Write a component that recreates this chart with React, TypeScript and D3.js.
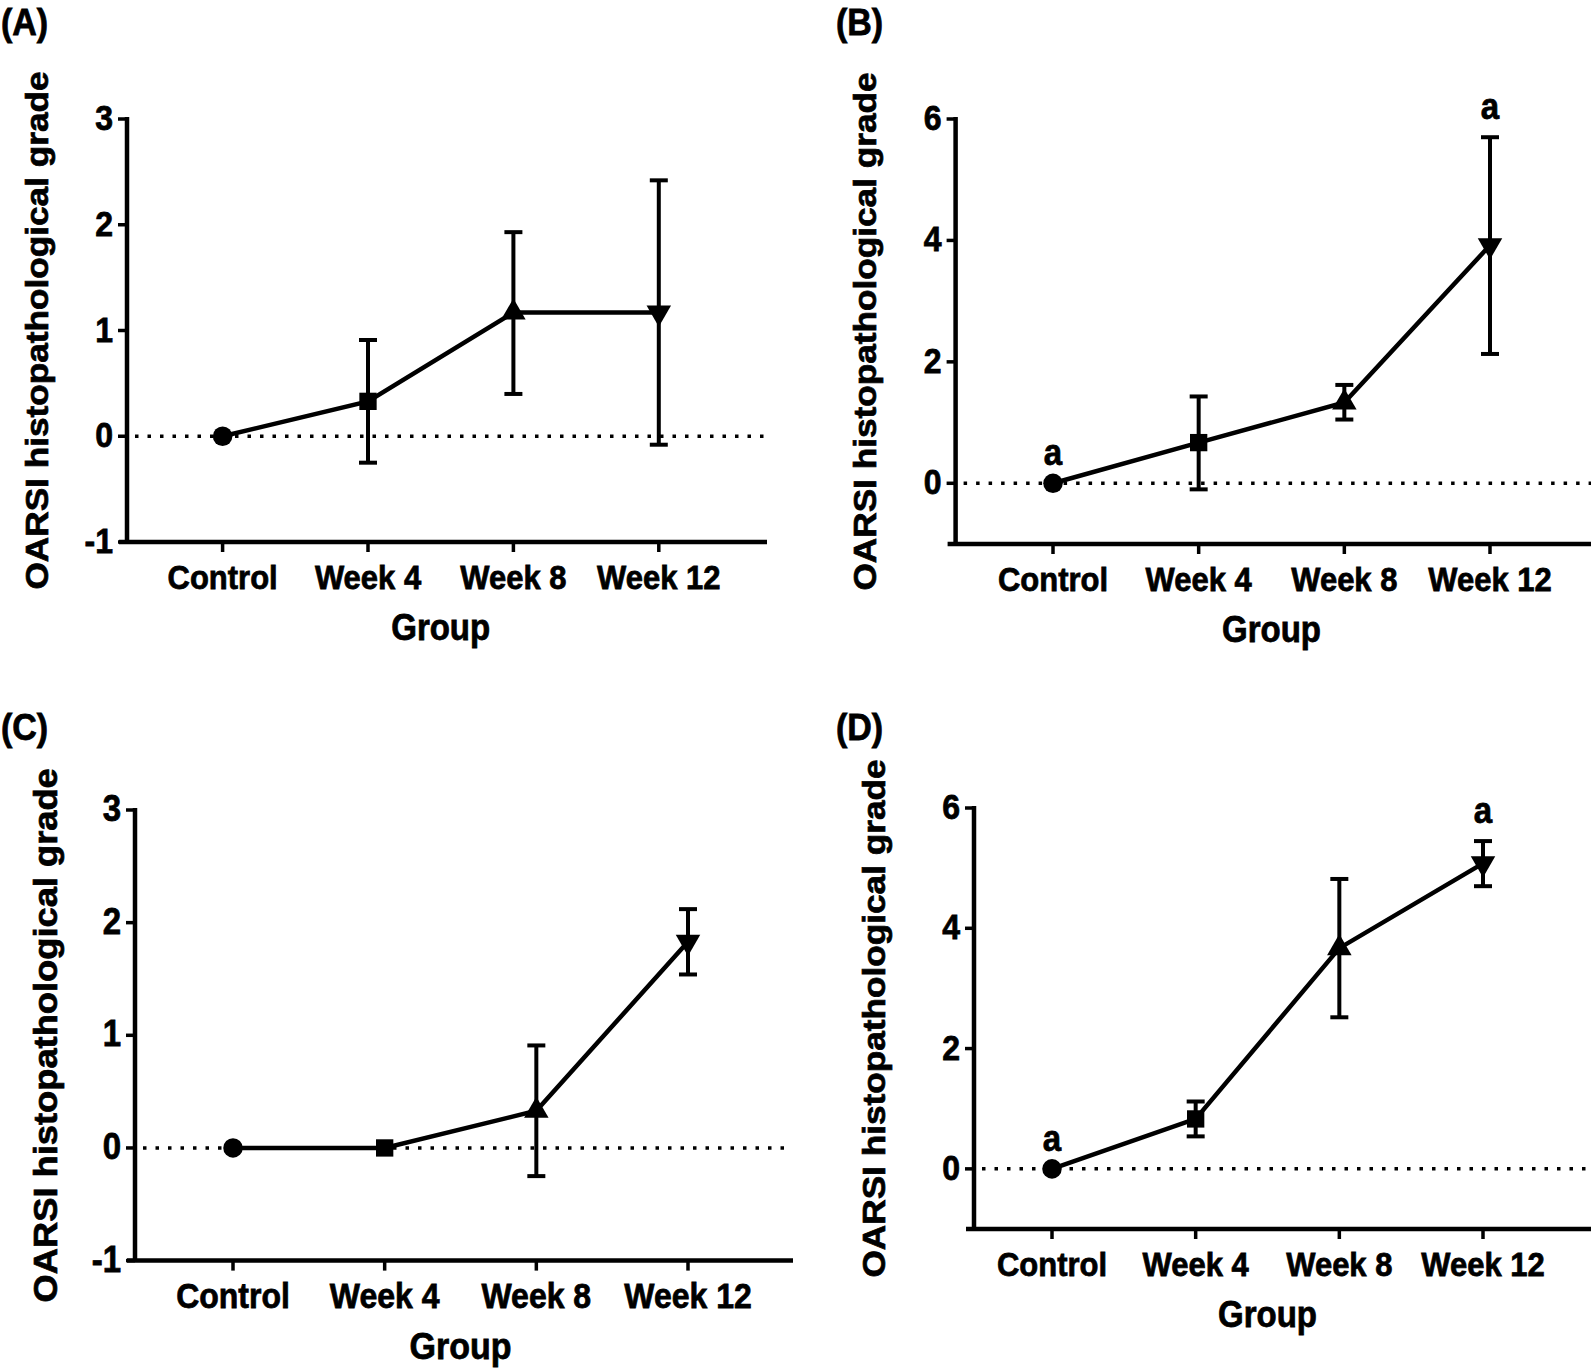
import React from "react";
import * as d3 from "d3";

const groups = ["Control", "Week 4", "Week 8", "Week 12"];

// panel A
const meanA = [0, 0.33, 1.17, 1.17];
const lowA = [0, -0.25, 0.4, -0.08];
const highA = [0, 0.91, 1.93, 2.42];
const ticksA = [-1, 0, 1, 2, 3];

// panel B
const meanB = [0, 0.67, 1.33, 3.92];
const lowB = [0, -0.1, 1.05, 2.13];
const highB = [0, 1.43, 1.62, 5.7];
const ticksB = [0, 2, 4, 6];
const sigB = ["a", "", "", "a"];

// panel C
const meanC = [0, 0, 0.33, 1.83];
const lowC = [0, 0, -0.25, 1.54];
const highC = [0, 0, 0.91, 2.12];
const ticksC = [-1, 0, 1, 2, 3];

// panel D
const meanD = [0, 0.83, 3.67, 5.08];
const lowD = [0, 0.54, 2.52, 4.7];
const highD = [0, 1.12, 4.82, 5.45];
const ticksD = [0, 2, 4, 6];
const sigD = ["a", "", "", "a"];

const FONT = "'Liberation Sans', Arial, sans-serif";
const SY = 1.1; // the figure is a bit taller than wide

const symbols = [
  d3.symbol().type(d3.symbolCircle).size(300)(),
  d3.symbol().type(d3.symbolSquare).size(300)(),
  d3.symbol().type(d3.symbolTriangle).size(260)(),
  d3.symbol().type(d3.symbolTriangle).size(260)(),
];

const Txt = ({ x, y, anchor = "middle", size = 31, children }) => (
  <text
    transform={`translate(${x},${y}) scale(1,${SY})`}
    textAnchor={anchor}
    fontFamily={FONT}
    fontWeight="bold"
    fontSize={size}
    fill="#000"
    stroke="#000"
    strokeWidth={0.7}
  >
    {children}
  </text>
);

const Panel = ({ letter, letterX, letterY, mean, low, high, ticks, domain, yRange, left, right, xRange, labelX, sig, fs = 31 }) => {
  const y = d3.scaleLinear().domain(domain).range(yRange);
  const x = d3.scalePoint().domain(groups).range(xRange);
  const bottom = y(domain[0]);
  const top = y(domain[1]);
  const line = d3
    .line<number>()
    .x((d, i) => x(groups[i]))
    .y((d) => y(d));
  const midX = (xRange[0] + xRange[1]) / 2;
  const midY = (top + bottom) / 2;
  return (
    <g>
      <Txt x={letterX} y={letterY} anchor="start" size={34}>
        {letter}
      </Txt>
      {/* zero reference */}
      <line
        x1={left + 8}
        x2={right}
        y1={y(0)}
        y2={y(0)}
        stroke="#000"
        strokeWidth={3.5}
        strokeDasharray="3.5 9"
      />
      {/* axes */}
      <line x1={left} x2={left} y1={top - 2} y2={bottom} stroke="#000" strokeWidth={4.5} />
      <line x1={left - 8} x2={right} y1={bottom} y2={bottom} stroke="#000" strokeWidth={4.5} />
      {ticks.map((t) => (
        <g key={t}>
          <line x1={left - 9} x2={left} y1={y(t)} y2={y(t)} stroke="#000" strokeWidth={3.5} />
          <Txt x={left - 14} y={y(t) + 11} anchor="end" size={fs + 1}>
            {t}
          </Txt>
        </g>
      ))}
      {groups.map((g) => (
        <g key={g}>
          <line x1={x(g)} x2={x(g)} y1={bottom} y2={bottom + 10} stroke="#000" strokeWidth={3.5} />
          <Txt x={x(g)} y={bottom + 47} size={fs}>
            {g}
          </Txt>
        </g>
      ))}
      <Txt x={midX} y={bottom + 98} size={fs + 2}>
        Group
      </Txt>
      <text
        transform={`translate(${labelX},${midY}) rotate(-90) scale(${SY},1)`}
        textAnchor="middle"
        fontFamily={FONT}
        fontWeight="bold"
        fontSize={fs + 1}
        fill="#000"
        stroke="#000"
        strokeWidth={0.7}
      >
        OARSI histopathological grade
      </text>
      {/* error bars */}
      {groups.map((g, i) =>
        high[i] - low[i] > 0 ? (
          <g key={g} stroke="#000" strokeWidth={4}>
            <line x1={x(g)} x2={x(g)} y1={y(low[i])} y2={y(high[i])} />
            <line x1={x(g) - 9} x2={x(g) + 9} y1={y(low[i])} y2={y(low[i])} />
            <line x1={x(g) - 9} x2={x(g) + 9} y1={y(high[i])} y2={y(high[i])} />
          </g>
        ) : null
      )}
      <path d={line(mean)} fill="none" stroke="#000" strokeWidth={4.5} />
      {groups.map((g, i) => (
        <path
          key={g}
          d={symbols[i]}
          transform={`translate(${x(g)},${y(mean[i])})${i === 3 ? " rotate(180)" : ""}`}
          fill="#000"
        />
      ))}
      {sig &&
        groups.map((g, i) =>
          sig[i] ? (
            <Txt key={g} x={x(g)} y={y(Math.max(mean[i], high[i])) - 18} size={fs + 2}>
              {sig[i]}
            </Txt>
          ) : null
        )}
    </g>
  );
};

export default function App() {
  return (
    <svg
      width={1594}
      height={1370}
      style={{ position: "absolute", left: 0, top: 0, background: "#fff" }}
    >
      <rect width={1594} height={1370} fill="#fff" />
      <Panel
        letter="(A)"
        letterX={1}
        letterY={35}
        mean={meanA}
        low={lowA}
        high={highA}
        ticks={ticksA}
        domain={[-1, 3]}
        yRange={[542, 119]}
        left={127}
        right={767}
        xRange={[222.6, 658.8]}
        labelX={48}
      />
      <Panel
        letter="(B)"
        letterX={836}
        letterY={35}
        mean={meanB}
        low={lowB}
        high={highB}
        ticks={ticksB}
        domain={[-1, 6]}
        yRange={[544, 119]}
        left={955.6}
        right={1591}
        xRange={[1053, 1490]}
        labelX={876}
        sig={sigB}
      />
      <Panel
        letter="(C)"
        letterX={1}
        letterY={740}
        mean={meanC}
        low={lowC}
        high={highC}
        ticks={ticksC}
        domain={[-1, 3]}
        yRange={[1260.6, 810]}
        left={135}
        right={793}
        xRange={[233, 688]}
        labelX={57}
        fs={32}
      />
      <Panel
        letter="(D)"
        letterX={836}
        letterY={740}
        mean={meanD}
        low={lowD}
        high={highD}
        ticks={ticksD}
        domain={[-1, 6]}
        yRange={[1229, 808]}
        left={974}
        right={1591}
        xRange={[1052, 1483]}
        labelX={885}
        sig={sigD}
      />
    </svg>
  );
}
